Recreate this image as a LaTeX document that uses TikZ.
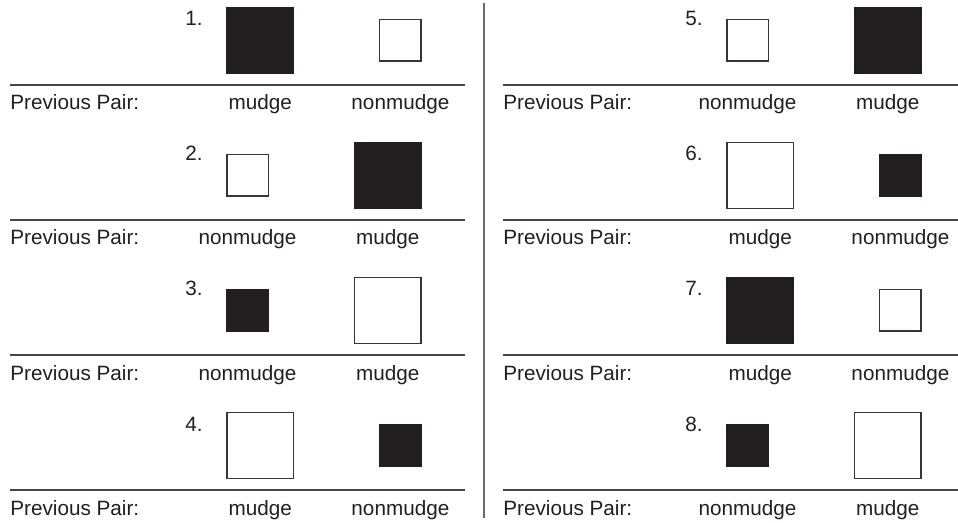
\documentclass[tikz,border=0pt]{standalone}
\usepackage{fontspec}
\setmainfont{Liberation Sans}
\definecolor{ink}{RGB}{35,31,32}
\definecolor{rulegray}{RGB}{70,70,70}
\definecolor{divgray}{RGB}{105,105,105}
\begin{document}
\begin{tikzpicture}[
  x=0.5pt, y=-0.5pt,
  font=\fontsize{10.35}{12}\selectfont, text=ink,
  sq/.style={draw=ink!90,line width=0.6pt,inner sep=0pt,outer sep=0pt},
  mudge/.style={sq,minimum size=33.2pt},
  nonmudge/.style={sq,minimum size=20.6pt},
  on/.style={fill=ink,draw=ink},
  off/.style={fill=white},
  lbl/.style={anchor=base,inner sep=0pt},
  num/.style={anchor=base east,inner sep=0pt},
  pair/.style={anchor=base west,inner sep=0pt},
  sep/.style={draw=rulegray,line width=0.6pt},
  divider/.style={draw=divgray,line width=0.75pt}]
\useasboundingbox (0,0) rectangle (958,523);
\coordinate (divtop) at (484,3);
\coordinate (divbot) at (484,518);
\draw[divider] (divtop) -- (divbot);
\foreach \n/\px/\lx/\py/\a/\fa/\b/\fb in {
    1/0/10/85/mudge/on/nonmudge/off,
    2/0/10/220/nonmudge/off/mudge/on,
    3/0/10/355/nonmudge/on/mudge/off,
    4/0/10/490/mudge/off/nonmudge/on,
    5/500/503/85/nonmudge/off/mudge/on,
    6/500/503/220/mudge/off/nonmudge/on,
    7/500/503/355/mudge/on/nonmudge/off,
    8/500/503/490/nonmudge/on/mudge/off}{
  \coordinate (ls\n) at (\lx,\py);
  \coordinate (le\n) at (\lx+455,\py);
  \coordinate (base\n) at (\lx,\py+25);
  \draw[sep] (ls\n) -- (le\n);
  \node[num] (n\n) at (\px+203,\py-59) {\n.};
  \node[\a,\fa,anchor=west] (a\n) at (\px+227,\py-44.5) {};
  \node[\b,\fb,anchor=east] (b\n) at (\px+421,\py-44.5) {};
  \node[pair] (p\n) at (base\n) {Previous Pair:};
  \node[lbl] (la\n) at (a\n |- base\n) {\a};
  \node[lbl] (lb\n) at (b\n |- base\n) {\b};
}
\end{tikzpicture}
\end{document}
